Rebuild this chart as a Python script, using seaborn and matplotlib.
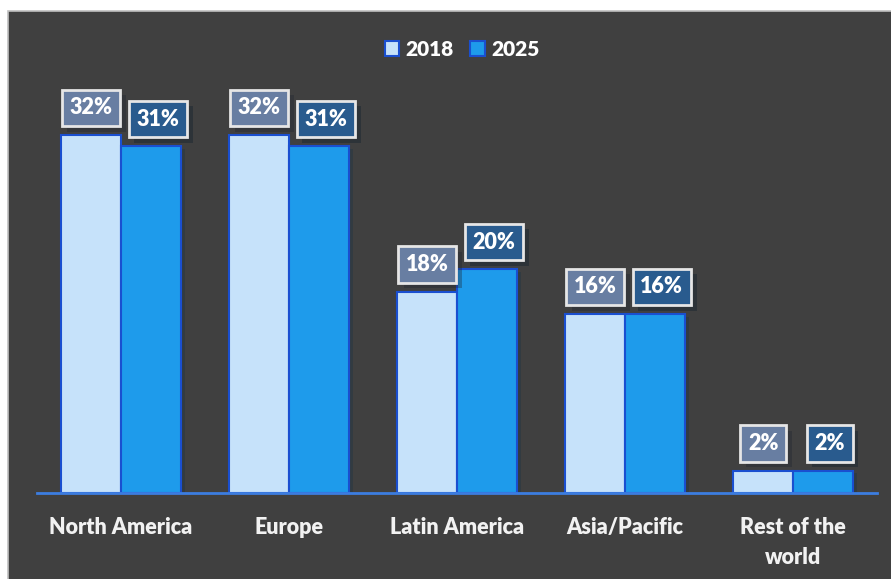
import matplotlib
matplotlib.use("Agg")
import matplotlib.pyplot as plt
import matplotlib.patheffects as pe
from matplotlib.patches import Rectangle, Patch
import seaborn as sns
import pandas as pd

# data
regions = ["North America", "Europe", "Latin America", "Asia/Pacific", "Rest of the\nworld"]
years = ["2018", "2025"]
share_2018 = [32, 32, 18, 16, 2]
share_2025 = [31, 31, 20, 16, 2]

bar_colors = {"2018": "#C6E2FA", "2025": "#1E9BEB"}
box_colors = {"2018": "#687EA2", "2025": "#295B8E"}
edge_blue = "#1A4FD0"

df = pd.DataFrame({
    "Region": regions * 2,
    "Year": ["2018"] * len(regions) + ["2025"] * len(regions),
    "Share": share_2018 + share_2025,
})

sns.set_theme(style="dark", rc={"axes.facecolor": "none", "figure.facecolor": "white"})
plt.rcParams["font.family"] = ["Lato", "DejaVu Sans"]
plt.rcParams["font.weight"] = "bold"

fig = plt.figure(figsize=(8.91, 5.79), dpi=100)
# dark chart area with thin grey border, white margin top/left
fig.patches.append(Rectangle((8 / 891, -0.01), 1.0, 1.01 - 11 / 579, transform=fig.transFigure,
                             facecolor="#404040", edgecolor="#C0C0C0", lw=1.2, zorder=-10))

ax = fig.add_axes([37 / 891, 86 / 579, 840 / 891, 418 / 579])
ax.set_facecolor("none")

sns.barplot(data=df, x="Region", y="Share", hue="Year", palette=bar_colors,
            width=0.71, edgecolor=edge_blue, linewidth=1.5, ax=ax, legend=False,
            saturation=1)

for bar in ax.patches:
    bar.set_path_effects([pe.SimplePatchShadow(offset=(3, -2), alpha=0.25), pe.Normal()])

# value labels in boxes
for year, cont in zip(years, ax.containers):
    dx = 0 if year == "2018" else 7
    for bar in cont:
        h = bar.get_height()
        x = bar.get_x() + bar.get_width() / 2
        t = ax.annotate(f"{h:.0f}%", (x, h), xytext=(dx, 27), textcoords="offset pixels",
                        ha="center", va="center", color="white", fontsize=15.5, fontweight="heavy",
                        bbox=dict(boxstyle="square,pad=0.36", facecolor=box_colors[year],
                                  edgecolor="#E6E6E6", linewidth=2))
        t.get_bbox_patch().set_path_effects([pe.SimplePatchShadow(offset=(4, -4), alpha=0.35), pe.Normal()])

ax.set_xlim(-0.5, 4.5)
ax.set_ylim(0, 37.35)
ax.set_yticks([])
ax.set_xlabel("")
ax.set_ylabel("")
for s in ["top", "right", "left"]:
    ax.spines[s].set_visible(False)
ax.spines["bottom"].set_color("#3C7DE0")
ax.spines["bottom"].set_linewidth(2)
ax.tick_params(axis="x", length=0, pad=17, colors="#F2F2F2", labelsize=15.5)
for lbl in ax.get_xticklabels():
    lbl.set_linespacing(1.55)
    lbl.set_fontweight("heavy")

handles = [Patch(facecolor=bar_colors[y], edgecolor=edge_blue, lw=1.5, label=y) for y in years]
leg = ax.legend(handles=handles, loc="center", bbox_to_anchor=(462 / 891, 1 - 49 / 579),
                bbox_transform=fig.transFigure, ncol=2, frameon=False, handlelength=0.7,
                handleheight=0.7, handletextpad=0.3, columnspacing=0.8, fontsize=15,
                labelcolor="white")
for txt in leg.get_texts():
    txt.set_fontweight("heavy")

fig.savefig("out.png", dpi=100, facecolor="white")
